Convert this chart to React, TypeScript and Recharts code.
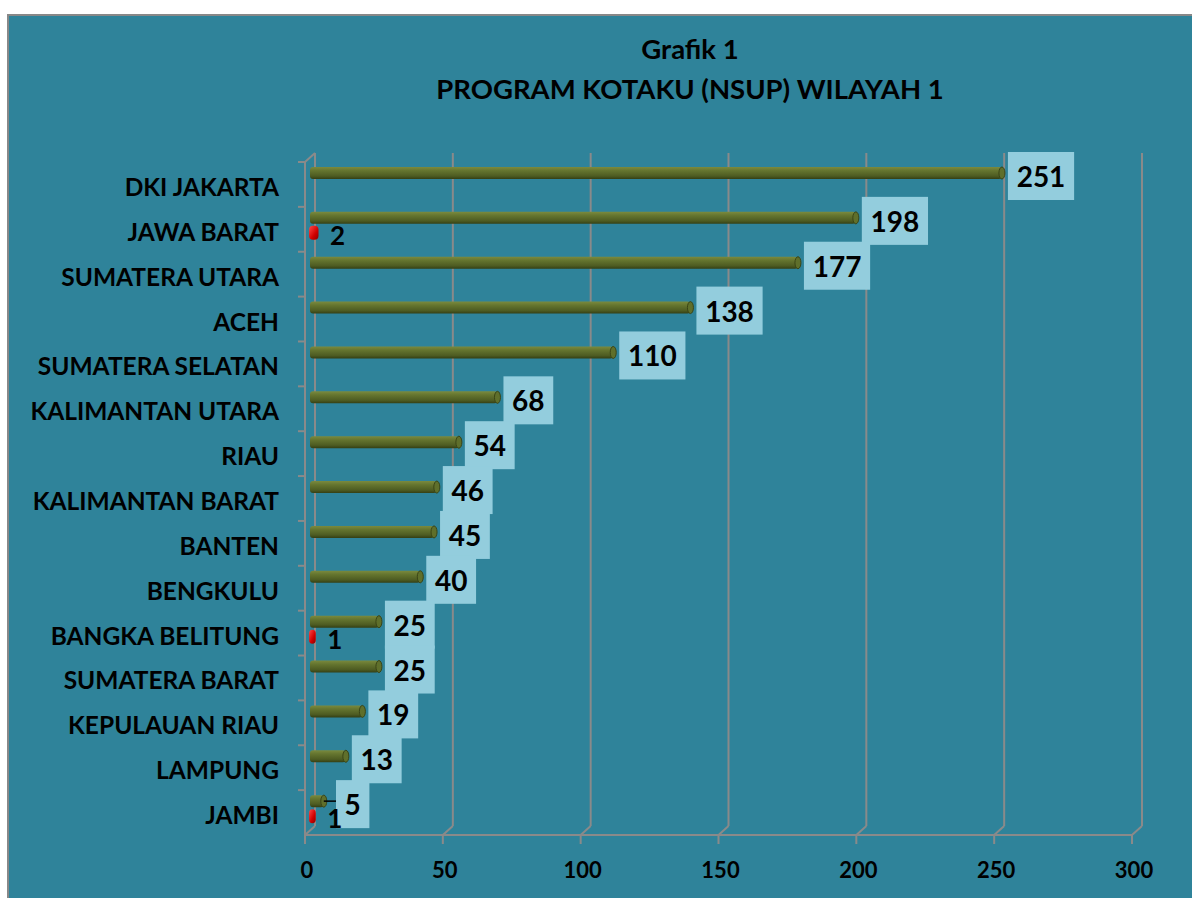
import React from 'react';
import { BarChart, Bar, XAxis, YAxis, CartesianGrid, LabelList } from 'recharts';

const categories = [
  'DKI JAKARTA', 'JAWA BARAT', 'SUMATERA UTARA', 'ACEH', 'SUMATERA SELATAN',
  'KALIMANTAN UTARA', 'RIAU', 'KALIMANTAN BARAT', 'BANTEN', 'BENGKULU',
  'BANGKA BELITUNG', 'SUMATERA BARAT', 'KEPULAUAN RIAU', 'LAMPUNG', 'JAMBI',
];
const seriesGreen = [251, 198, 177, 138, 110, 68, 54, 46, 45, 40, 25, 25, 19, 13, 5];
const seriesRed: (number | null)[] = [null, 2, null, null, null, null, null, null, null, null, 1, null, null, null, 1];
const xTicks = [0, 50, 100, 150, 200, 250, 300];
const X_MAX = 300;
const titleLines = ['Grafik 1', 'PROGRAM KOTAKU (NSUP) WILAYAH 1'];

const data = categories.map((name, i) => ({ name, a: seriesGreen[i], b: seriesRed[i] }));

const W = 1183;
const H = 882;
const MARGIN = { top: 146, right: 60, left: 0, bottom: 0 };
const YAXIS_W = 296;
const XAXIS_H = 63;
const PLOT_H = H - MARGIN.top - MARGIN.bottom - XAXIS_H;
const BAND = PLOT_H / categories.length;
const DEPTH_X = 10;
const DEPTH_Y = -9;
const BAR_DX = 5;
const BAR_DY = -5;
const LABEL_GAP = 6;
const LABEL_MIN_OFFSET = 26;
const FONT = 'Lato, "Open Sans", "Liberation Sans", sans-serif';
const GRID = '#8a8a8a';
const BG = '#2f839a';

const boxWidth = (txt: string) => 17 + txt.length * 16.4;

const greenBoxLeft = (barX: number, barW: number) =>
  Math.max(barX + BAR_DX + barW + LABEL_GAP, barX + BAR_DX + LABEL_MIN_OFFSET);

const GreenBar = (props: any) => {
  const { x, y, width, height } = props;
  if (!width || width <= 0) return null;
  const X = x + BAR_DX;
  const Y = y + BAR_DY;
  return (
    <g>
      <defs>
        <linearGradient id="gcyl" x1="0" y1="0" x2="0" y2="1">
          <stop offset="0%" stopColor="#7a8a3e" />
          <stop offset="30%" stopColor="#65752f" />
          <stop offset="75%" stopColor="#4e5c22" />
          <stop offset="100%" stopColor="#343f14" />
        </linearGradient>
      </defs>
      <rect x={X} y={Y} width={width} height={height} rx={3} fill="url(#gcyl)" />
      <ellipse cx={X + width} cy={Y + height / 2} rx={3} ry={height / 2} fill="#5f6f2b" stroke="#3a4516" strokeWidth={1} />
    </g>
  );
};

const RedBar = (props: any) => {
  const { x, y, width, height } = props;
  if (!width || width <= 0) return null;
  const X = x + BAR_DX;
  const Y = y + BAR_DY;
  return (
    <g>
      <defs>
        <linearGradient id="rcyl" x1="0" y1="0" x2="1" y2="1">
          <stop offset="0%" stopColor="#ff4a4a" />
          <stop offset="60%" stopColor="#d00000" />
          <stop offset="100%" stopColor="#8a0000" />
        </linearGradient>
      </defs>
      <rect x={X - 1} y={Y + 1} width={width + 4} height={height + 2} rx={4} fill="url(#rcyl)" />
    </g>
  );
};

const greenLabel = (props: any) => {
  const { x, y, width, height, value } = props;
  if (value == null) return null;
  const txt = String(value);
  const barEnd = x + BAR_DX + width;
  const bx = greenBoxLeft(x, width);
  const cy = y + BAR_DY + height / 2;
  const bw = boxWidth(txt);
  const moved = bx > barEnd + LABEL_GAP + 0.5;
  return (
    <g>
      {moved ? <line x1={barEnd} y1={cy} x2={bx} y2={cy} stroke="#000" strokeWidth={1.5} /> : null}
      <rect x={bx} y={cy - 21} width={bw} height={48} fill="#93cddd" />
      <text x={bx + bw / 2} y={cy + 3} textAnchor="middle" dominantBaseline="central"
        fontFamily={FONT} fontWeight={700} fontSize={28} fill="#000">{txt}</text>
    </g>
  );
};

const redLabel = (props: any) => {
  const { x, y, width, height, value, index } = props;
  if (value == null) return null;
  let cx = x + BAR_DX + width + 22;
  let cy = y + BAR_DY + height / 2 + 4;
  const row = data[index];
  if (row && row.a != null && value) {
    const pxPerUnit = width / value;
    const gLeft = greenBoxLeft(x, row.a * pxPerUnit);
    if (cx + 8 > gLeft - 2) {
      cx = gLeft - 9;
      cy += 12;
    }
  }
  return (
    <text x={cx} y={cy} textAnchor="middle" dominantBaseline="central"
      fontFamily={FONT} fontWeight={700} fontSize={26} fill="#000">{String(value)}</text>
  );
};

const XTick = (props: any) => {
  const { x, y, payload } = props;
  return (
    <g>
      <line x1={x} y1={y} x2={x} y2={y + 9} stroke={GRID} strokeWidth={2} />
      <line x1={x} y1={y} x2={x + DEPTH_X} y2={y + DEPTH_Y} stroke={GRID} strokeWidth={2} />
      <text x={x + 2} y={y + 34} textAnchor="middle" dominantBaseline="central"
        fontFamily={FONT} fontWeight={700} fontSize={22} fill="#000">{payload.value}</text>
    </g>
  );
};

const YTick = (props: any) => {
  const { x, y, payload, index } = props;
  const top = y - BAND / 2;
  return (
    <g>
      <line x1={x - 7} y1={top} x2={x} y2={top} stroke={GRID} strokeWidth={2} />
      {index === 0 ? (
        <line x1={x} y1={top} x2={x + DEPTH_X} y2={top + DEPTH_Y} stroke={GRID} strokeWidth={2} />
      ) : null}
      <text x={x - 26} y={y + 2} textAnchor="end" dominantBaseline="central"
        fontFamily={FONT} fontWeight={700} fontSize={24.5} fill="#000">{payload.value}</text>
    </g>
  );
};

const gridGen = (args: any) => {
  const axis = args && args.xAxis;
  const scale = axis && axis.scale;
  if (typeof scale === 'function') return xTicks.map((t) => scale(t) + DEPTH_X);
  if (scale && typeof scale.map === 'function') return xTicks.map((t) => scale.map(t) + DEPTH_X);
  const off = (args && args.offset) || {};
  const left = off.left != null ? off.left : MARGIN.left + YAXIS_W;
  const w = off.width != null ? off.width : W - left - MARGIN.right;
  return xTicks.map((t) => left + (t / X_MAX) * w + DEPTH_X);
};

export default function App() {
  return (
    <div
      style={{
        position: 'absolute', left: 7, top: 14, width: 1185, height: 884,
        boxSizing: 'border-box', borderLeft: '2px solid #888', borderTop: '2px solid #888',
        background: BG, overflow: 'hidden',
      }}
    >
      <div style={{ position: 'absolute', left: 281, top: 17, width: 800, textAlign: 'center',
        fontFamily: FONT, fontWeight: 700, fontSize: 27.5, lineHeight: '32px', color: '#000' }}>
        {titleLines[0]}
      </div>
      <div style={{ position: 'absolute', left: 281, top: 57, width: 800, textAlign: 'center',
        fontFamily: FONT, fontWeight: 700, fontSize: 27.5, lineHeight: '32px', color: '#000' }}>
        {titleLines[1]}
      </div>
      <BarChart
        width={W}
        height={H}
        data={data}
        layout="vertical"
        margin={MARGIN}
        barSize={12}
        barGap={1}
        barCategoryGap={0}
      >
        <CartesianGrid
          horizontal={false}
          vertical
          stroke={GRID}
          strokeWidth={2}
          y={MARGIN.top + DEPTH_Y}
          height={PLOT_H}
          verticalCoordinatesGenerator={gridGen}
        />
        <XAxis
          type="number"
          domain={[0, X_MAX]}
          ticks={xTicks}
          interval={0}
          height={XAXIS_H}
          axisLine={{ stroke: GRID, strokeWidth: 2 }}
          tickLine={false}
          tickSize={0}
          tickMargin={0}
          tick={<XTick />}
        />
        <YAxis
          type="category"
          dataKey="name"
          width={YAXIS_W}
          interval={0}
          axisLine={{ stroke: GRID, strokeWidth: 2 }}
          tickLine={false}
          tickSize={0}
          tickMargin={0}
          tick={<YTick />}
        />
        <Bar dataKey="a" shape={<GreenBar />} isAnimationActive={false}>
          <LabelList dataKey="a" content={greenLabel} />
        </Bar>
        <Bar dataKey="b" shape={<RedBar />} isAnimationActive={false}>
          <LabelList dataKey="b" content={redLabel} />
        </Bar>
      </BarChart>
    </div>
  );
}
